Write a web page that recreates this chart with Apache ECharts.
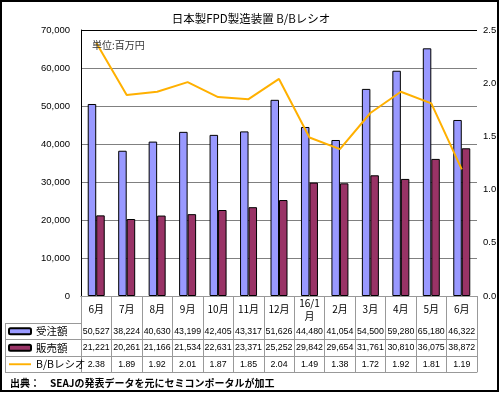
<!DOCTYPE html>
<html>
<head>
<meta charset="utf-8">
<script src="https://cdn.jsdelivr.net/npm/echarts@6/dist/echarts.min.js"></script>
<style>
html,body{margin:0;padding:0;background:#fff;}
#c{width:500px;height:393px;}
</style>
</head>
<body>
<div id="c"></div>
<script>
var months = ['6月','7月','8月','9月','10月','11月','12月','16/1\n月','2月','3月','4月','5月','6月'];
var orders = [50527,38224,40630,43199,42405,43317,51626,44480,41054,54500,59280,65180,46322];
var sales = [21221,20261,21166,21534,22631,23371,25252,29842,29654,31761,30810,36075,38872];
var ratio = [2.38,1.89,1.92,2.01,1.87,1.85,2.04,1.49,1.38,1.72,1.92,1.81,1.19];
var seriesNames = ['受注額','販売額','B/Bレシオ'];
var leftTicks = {min:0, max:70000, interval:10000};
var rightTicks = {min:0, max:2.5, interval:0.5};

var FONT = '"Liberation Sans", "Noto Sans CJK JP", sans-serif';
var CJK = '"Noto Sans CJK JP", sans-serif';
function fmt(v){ return v.toLocaleString('en-US'); }

function rowAxis(data, offset, showLabel){
  return {
    type:'category', gridIndex:0, position:'bottom', offset:offset,
    data:data, boundaryGap:true,
    axisLine:{show:true, lineStyle:{color:'#999', width:1}},
    axisTick:{show:false},
    axisLabel:{show:showLabel, interval:0, margin:8.5, verticalAlign:'middle',
      fontSize:8.8, color:'#000', fontFamily:FONT},
    splitLine:{show:false}
  };
}

var chart = echarts.init(document.getElementById('c'));
var gridColors = ['#808080','#808080','#808080','#808080','#808080','#808080','#808080','#000'];
chart.setOption({
  animation:false,
  backgroundColor:'#fff',
  title:[
    {text:'日本製FPD製造装置 B/Bレシオ', left:246, textAlign:'center', top:8,
     textStyle:{fontSize:11.5, fontWeight:'normal', color:'#000', fontFamily:CJK}},
    {text:'単位:百万円', left:87, top:35,
     textStyle:{fontSize:10, fontWeight:'normal', color:'#333', fontFamily:CJK}},
    {text:'出典：　SEAJの発表データを元にセミコンポータルが加工', left:5, top:373,
     textStyle:{fontSize:10, fontWeight:'bold', color:'#000', fontFamily:CJK}}
  ],
  legend:{
    orient:'vertical', left:8, top:323, padding:0, itemGap:0,
    itemWidth:22, itemHeight:6,
    data:[
      {name:seriesNames[0]},
      {name:seriesNames[1]},
      {name:seriesNames[2], icon:'path://M0,0L23,0L23,2L0,2Z', itemStyle:{color:'#FFB000', borderWidth:0}}
    ],
    textStyle:{fontSize:10.5, color:'#000', fontFamily:CJK, lineHeight:16.5},
    selectedMode:false
  },
  grid:{left:81, right:23, top:30, bottom:97, containLabel:false},
  xAxis:[
    {type:'category', data:months, boundaryGap:true, position:'bottom',
     axisLine:{show:true, lineStyle:{color:'#808080'}},
     axisTick:{show:true, length:76, interval:0, lineStyle:{color:'#999'}},
     axisLabel:{interval:0, margin:13.5, verticalAlign:'middle', fontSize:10,
       lineHeight:13, color:'#000', fontFamily:CJK},
     splitLine:{show:false}},
    rowAxis(orders.map(fmt), 27, true),
    rowAxis(sales.map(fmt), 43.5, true),
    rowAxis(ratio.map(function(v){return v.toFixed(2);}), 60, true),
    rowAxis(months, 76, false)
  ],
  yAxis:[
    {type:'value', min:leftTicks.min, max:leftTicks.max, interval:leftTicks.interval,
     axisLine:{show:true, lineStyle:{color:'#000'}},
     axisTick:{show:false},
     axisLabel:{margin:11, fontSize:9.5, color:'#000', fontFamily:FONT,
       formatter:function(v){return fmt(v);}},
     splitLine:{show:true, lineStyle:{color:gridColors, width:1}}},
    {type:'value', min:rightTicks.min, max:rightTicks.max, interval:rightTicks.interval,
     position:'right',
     axisLine:{show:false}, axisTick:{show:false},
     axisLabel:{margin:6, fontSize:9.5, color:'#000', fontFamily:FONT,
       formatter:function(v){return v.toFixed(1);}},
     splitLine:{show:false}}
  ],
  series:[
    {name:seriesNames[0], type:'bar', data:orders, barWidth:8.5, barGap:'0%',
     itemStyle:{color:'#9999FF', borderColor:'#000', borderWidth:1}},
    {name:seriesNames[1], type:'bar', data:sales, barWidth:8.5, barGap:'0%',
     itemStyle:{color:'#993366', borderColor:'#000', borderWidth:1}},
    {name:seriesNames[2], type:'line', data:ratio, yAxisIndex:1, symbol:'none',
     showSymbol:false, lineStyle:{color:'#FFB000', width:2}, itemStyle:{color:'#FFB000'}}
  ],
  graphic:[
    {type:'rect', shape:{x:1, y:1, width:497, height:390}, style:{fill:null, stroke:'#000', lineWidth:2}, silent:true, z:100},
    {type:'line', shape:{x1:5, y1:323.5, x2:81, y2:323.5}, style:{stroke:'#999', lineWidth:1}},
    {type:'line', shape:{x1:5, y1:339.5, x2:81, y2:339.5}, style:{stroke:'#999', lineWidth:1}},
    {type:'line', shape:{x1:5, y1:356.5, x2:81, y2:356.5}, style:{stroke:'#999', lineWidth:1}},
    {type:'line', shape:{x1:5, y1:372.5, x2:81, y2:372.5}, style:{stroke:'#999', lineWidth:1}},
    {type:'line', shape:{x1:5.5, y1:323, x2:5.5, y2:373}, style:{stroke:'#999', lineWidth:1}}
  ]
});
</script>
</body>
</html>
